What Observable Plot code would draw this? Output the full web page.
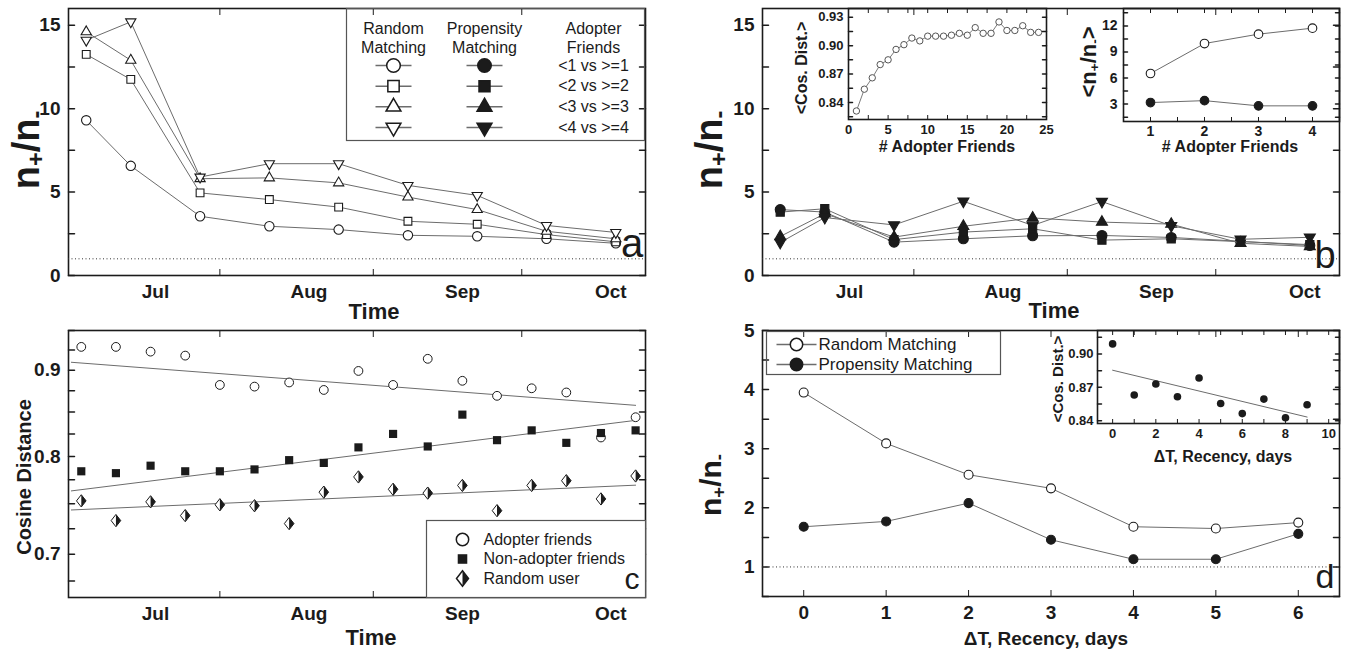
<!DOCTYPE html>
<html><head><meta charset="utf-8">
<script src="https://cdn.jsdelivr.net/npm/d3@7"></script>
<script src="https://cdn.jsdelivr.net/npm/@observablehq/plot@0.6"></script>
<style>
body{margin:0;background:#fff;}
#root{position:relative;width:1347px;height:652px;overflow:hidden;font-family:"Liberation Sans",Arial,sans-serif;color:#1b1b1b;background:#fff;}
.lab{position:absolute;white-space:nowrap;font-weight:bold;transform:translate(-50%,-50%);line-height:1;}
.rot{transform:translate(-50%,-50%) rotate(-90deg);}
.lab sub{font-size:62%;vertical-align:-0.22em;line-height:0;}
.let{font-weight:normal;}
</style></head><body><div id="root"></div>
<script>
// ---------------- data ----------------
const timeAB = ["2010-06-17","2010-06-26","2010-07-10","2010-07-24","2010-08-07","2010-08-21","2010-09-04","2010-09-18","2010-10-02"];
// (a) random matching, n+/n-
const randomLt1 = [9.3, 6.57, 3.55, 2.95, 2.75, 2.41, 2.35, 2.2, 1.93];
const randomLt2 = [13.25, 11.75, 4.95, 4.55, 4.1, 3.25, 3.07, 2.45, 2.02];
const randomLt3 = [14.6, 12.9, 5.8, 5.85, 5.55, 4.7, 3.95, 2.65, 2.2];
const randomLt4 = [14.1, 15.2, 5.9, 6.7, 6.7, 5.4, 4.8, 3.0, 2.58];
// (b) propensity matching, n+/n-
const propLt1 = [3.95, 3.8, 2.0, 2.2, 2.38, 2.4, 2.28, 2.05, 1.8];
const propLt2 = [3.8, 4.0, 2.15, 2.6, 2.8, 2.12, 2.2, 2.03, 1.85];
const propLt3 = [2.34, 3.7, 2.3, 2.95, 3.45, 3.2, 3.08, 1.93, 1.74];
const propLt4 = [1.98, 3.47, 3.03, 4.45, 3.0, 4.43, 2.98, 2.17, 2.29];
// (b) inset 1
const adopterFriendsCount = [1,2,3,4,5,6,7,8,9,10,11,12,13,14,15,16,17,18,19,20,21,22,23,24];
const cosDistByFriends = [0.831,0.854,0.866,0.880,0.885,0.896,0.901,0.908,0.905,0.910,0.910,0.910,0.911,0.913,0.911,0.919,0.913,0.913,0.925,0.916,0.916,0.921,0.914,0.914];
// (b) inset 2
const friendsThreshold = [1,2,3,4];
const meanRatioRandom = [6.52, 9.97, 11.05, 11.74];
const meanRatioPropensity = [3.18, 3.4, 2.8, 2.8];
// (c) cosine distance over time
const timeC = ["2010-06-16","2010-06-23","2010-06-30","2010-07-07","2010-07-14","2010-07-21","2010-07-28","2010-08-04","2010-08-11","2010-08-18","2010-08-25","2010-09-01","2010-09-08","2010-09-15","2010-09-22","2010-09-29","2010-10-06"];
const cosAdopter = [0.929,0.929,0.923,0.918,0.882,0.880,0.885,0.876,0.899,0.882,0.914,0.887,0.869,0.878,0.873,0.821,0.844];
const cosNonAdopter = [0.784,0.782,0.790,0.784,0.784,0.786,0.796,0.793,0.810,0.825,0.811,0.847,0.818,0.829,0.815,0.826,0.829];
const cosRandomUser = [0.753,0.733,0.752,0.738,0.749,0.748,0.730,0.762,0.778,0.765,0.761,0.769,0.743,0.769,0.774,0.755,0.779];
// (c) fitted trend lines as drawn (start / end values)
const fitTime = ["2010-06-14","2010-10-06"];
const fitAdopter = [0.9097, 0.8578];
const fitNonAdopter = [0.7633, 0.8404];
const fitRandomUser = [0.7437, 0.7693];
// (d) recency
const recencyDays = [0,1,2,3,4,5,6];
const ratioRecencyRandom = [3.95, 3.09, 2.56, 2.33, 1.68, 1.65, 1.75];
const ratioRecencyPropensity = [1.68, 1.77, 2.08, 1.46, 1.13, 1.13, 1.56];
const recencyDaysInset = [0,1,2,3,4,5,6,7,8,9];
const cosByRecency = [0.909,0.8631,0.873,0.8616,0.8784,0.8556,0.8465,0.8595,0.8427,0.8544];
// ticks / labels
const monthTicks = ["2010-07-01","2010-08-01","2010-09-01","2010-10-01"];
const midMonthTicks = ["2010-07-14","2010-08-14","2010-09-13"];
const thresholdNames = ["<1 vs >=1","<2 vs >=2","<3 vs >=3","<4 vs >=4"];
const legendHeaders = ["Random\nMatching","Propensity\nMatching","Adopter\nFriends"];
const legendCNames = ["Adopter friends","Non-adopter friends","Random user"];
const legendDNames = ["Random Matching","Propensity Matching"];

// ---------------- helpers ----------------
const INK = "#1b1b1b", LINE = "#6c6c6c", FONT = "'Liberation Sans', Arial, Helvetica, sans-serif";
const parse = d3.utcParse("%Y-%m-%d");
const monthFmt = d3.utcFormat("%b");
const root = document.getElementById("root");
const timeDomain = [new Date(Date.UTC(2010,5,13,10)), parse("2010-10-08")];
const baseStyle = {background:"transparent", fontFamily: FONT, color: INK, overflow:"visible", fontSize:"16px"};

function place(node, left, top){
  node.style.position = "absolute"; node.style.left = left + "px"; node.style.top = top + "px";
  root.appendChild(node); return node;
}
function label(html, cx, cy, size, cls=""){
  const d = document.createElement("div");
  d.className = "lab " + cls; d.innerHTML = html;
  d.style.left = cx + "px"; d.style.top = cy + "px"; d.style.fontSize = size + "px";
  root.appendChild(d);
}
const none = () => "";
const tickLine = {draw(ctx, l){ ctx.moveTo(0, 0); ctx.lineTo(0, -l); }};
function xAxes({xLab, xFmt, xMarks, topMarks = xMarks, fs = 19, tick = 6, xPad = 9}){
  return [
    Plot.axisX({ticks: xLab, tickFormat: xFmt, tickSize: 0, tickPadding: xPad, fontSize: fs, fontWeight: "bold", label: null}),
    Plot.axisX({ticks: xMarks, tickFormat: none, tickSize: -tick, label: null}),
    Plot.axisX({anchor: "top", ticks: topMarks, tickFormat: none, tickSize: -tick, label: null})
  ];
}
function yAxes({yLab, yFmt, yMarks, fs = 19, tick = 6, yPad = 8}){
  // inward y ticks drawn as vectors anchored on the frame, labels as text
  return [
    Plot.text(yLab, {y: d => d, frameAnchor: "left", textAnchor: "end", dx: -yPad, text: yFmt, fontSize: fs, fontWeight: "bold"}),
    Plot.vector(yMarks, {y: d => d, frameAnchor: "left", rotate: 90, length: tick, anchor: "start", shape: tickLine, stroke: INK}),
    Plot.vector(yMarks, {y: d => d, frameAnchor: "right", rotate: -90, length: tick, anchor: "start", shape: tickLine, stroke: INK})
  ];
}
function boxAxes(o){
  return [...xAxes(o), ...yAxes(o), Plot.frame({stroke: INK, strokeWidth: 1.6})];
}
const triDown = {draw(ctx, size){ const y = -Math.sqrt(size / (Math.sqrt(3) * 3)); ctx.moveTo(0, -y * 2); ctx.lineTo(-Math.sqrt(3) * y, y); ctx.lineTo(Math.sqrt(3) * y, y); ctx.closePath(); }};
const dash = (h) => ({draw(ctx){ ctx.moveTo(-h, 0); ctx.lineTo(h, 0); }});
const diamondOutline = {draw(ctx, size){ const r = Math.sqrt(size / Math.PI), w = r, h = r * 1.28; ctx.moveTo(0,-h); ctx.lineTo(w,0); ctx.lineTo(0,h); ctx.lineTo(-w,0); ctx.closePath(); }};
const diamondRight = {draw(ctx, size){ const r = Math.sqrt(size / Math.PI), w = r, h = r * 1.28; ctx.moveTo(0,-h); ctx.lineTo(w,0); ctx.lineTo(0,h); ctx.closePath(); }};

const symOpen = [{symbol:"circle", r:4.7},{symbol:"square", r:4.4},{symbol:"triangle", r:3.8},{symbol:triDown, r:3.8}];
const symFill = [{symbol:"circle", r:5.0},{symbol:"square", r:4.6},{symbol:"triangle", r:4.1},{symbol:triDown, r:4.1}];

function series(xs, vals, st, filled, parseX = true){
  const data = xs.map((x, i) => ({x: parseX ? parse(x) : x, v: vals[i]}));
  return [
    Plot.line(data, {x: "x", y: "v", stroke: LINE, strokeWidth: 1}),
    Plot.dot(data, {x: "x", y: "v", symbol: st.symbol, r: st.r, fill: filled ? INK : "white", stroke: INK, strokeWidth: 1.1})
  ];
}
const yMain = d3.range(0, 15.01, 2.5);
const timeAxes = {xLab: monthTicks.map(parse), xFmt: monthFmt, xMarks: midMonthTicks.map(parse), yLab: [0,5,10,15], yFmt: d3.format("d"), yMarks: yMain};
const noAxes = {axis: null};

// ---------------- panel a ----------------
const panelA = Plot.plot({
  width: 660, height: 320, marginLeft: 68, marginRight: 15, marginTop: 8, marginBottom: 45,
  x: {type: "utc", domain: timeDomain}, y: {domain: [0, 16], ...noAxes}, style: baseStyle,
  marks: [
    ...boxAxes(timeAxes),
    Plot.ruleY([1], {stroke: "#333", strokeDasharray: "1,2.5"}),
    ...[randomLt1, randomLt2, randomLt3, randomLt4].flatMap((v, i) => series(timeAB, v, symOpen[i], false))
  ]
});
place(panelA, 0, 0);

// legend (a): three columns placed from the frame's left edge, rows on a y scale
const legendRows = thresholdNames.map((name, i) => ({i, name}));
const colX = [47, 138, 247];
const legendA = Plot.plot({
  width: 298, height: 132, margin: 0, style: baseStyle,
  x: noAxes, y: {domain: [0, 3], range: [57, 119], ...noAxes},
  marks: [
    Plot.frame({stroke: "#555", strokeWidth: 1.2}),
    ...legendHeaders.map((h, c) => Plot.text([h], {frameAnchor: "top-left", dx: colX[c], dy: 12, lineAnchor: "top", textAnchor: "middle", text: d => d, fontSize: 16, lineHeight: 1.18})),
    Plot.dot(legendRows, {frameAnchor: "left", dx: colX[0], y: "i", symbol: dash(18), stroke: LINE, fill: "none"}),
    Plot.dot(legendRows, {frameAnchor: "left", dx: colX[1], y: "i", symbol: dash(18), stroke: LINE, fill: "none"}),
    ...legendRows.map(d => Plot.dot([d], {frameAnchor: "left", dx: colX[0], y: "i", symbol: symOpen[d.i].symbol, r: symOpen[d.i].r * 1.45, fill: "white", stroke: INK})),
    ...legendRows.map(d => Plot.dot([d], {frameAnchor: "left", dx: colX[1], y: "i", symbol: symFill[d.i].symbol, r: symFill[d.i].r * 1.35, fill: INK, stroke: INK})),
    Plot.text(legendRows, {frameAnchor: "left", dx: colX[2], y: "i", text: "name", textAnchor: "middle", fontSize: 16})
  ]
});
place(legendA, 346, 8);

// ---------------- panel b ----------------
const panelB = Plot.plot({
  width: 647, height: 320, marginLeft: 62, marginRight: 8, marginTop: 8, marginBottom: 45,
  x: {type: "utc", domain: timeDomain}, y: {domain: [0, 16], ...noAxes}, style: baseStyle,
  marks: [
    ...boxAxes(timeAxes),
    Plot.ruleY([1], {stroke: "#333", strokeDasharray: "1,2.5"}),
    ...[propLt1, propLt2, propLt3, propLt4].flatMap((v, i) => series(timeAB, v, symFill[i], true))
  ]
});
place(panelB, 700, 0);

const insetB1 = Plot.plot({
  width: 260, height: 160, marginLeft: 48, marginRight: 14, marginTop: 8, marginBottom: 41,
  x: {domain: [0, 25]}, y: {domain: [0.822, 0.9392], ...noAxes}, style: baseStyle,
  marks: [
    ...boxAxes({xLab: [0,5,10,15,20,25], xFmt: d3.format("d"), xMarks: d3.range(0, 25.1, 2.5), yLab: [0.84,0.87,0.90,0.93], yFmt: d3.format(".2f"), yMarks: d3.range(0.825, 0.94, 0.015), fs: 13, tick: 4, xPad: 5, yPad: 5}),
    Plot.line(adopterFriendsCount.map((x, i) => ({x, v: cosDistByFriends[i]})), {x: "x", y: "v", stroke: LINE, strokeWidth: 0.9}),
    Plot.dot(adopterFriendsCount.map((x, i) => ({x, v: cosDistByFriends[i]})), {x: "x", y: "v", r: 3.2, fill: "white", stroke: "#555", strokeWidth: 1})
  ]
});
place(insetB1, 800, 0);

const insetB2 = Plot.plot({
  width: 277, height: 160, marginLeft: 53, marginRight: 8, marginTop: 8, marginBottom: 39,
  x: {domain: [0.5, 4.5]}, y: {domain: [1, 14], ...noAxes}, style: baseStyle,
  marks: [
    ...boxAxes({xLab: [1,2,3,4], xFmt: d3.format("d"), xMarks: d3.range(0.5, 4.51, 0.5), yLab: [3,6,9,12], yFmt: d3.format("d"), yMarks: d3.range(1.5, 13.6, 1.5), fs: 14, tick: 4, xPad: 5, yPad: 6}),
    ...series(friendsThreshold, meanRatioRandom, {symbol: "circle", r: 4.3}, false, false),
    ...series(friendsThreshold, meanRatioPropensity, {symbol: "circle", r: 4.3}, true, false)
  ]
});
place(insetB2, 1070, 0);

// ---------------- panel c ----------------
const dataC = (vals) => timeC.map((t, i) => ({x: parse(t), v: vals[i]}));
const fitC = (vals) => fitTime.map((t, i) => ({x: parse(t), v: vals[i]}));
const panelC = Plot.plot({
  width: 660, height: 332, marginLeft: 68, marginRight: 15, marginTop: 10, marginBottom: 55,
  x: {type: "utc", domain: timeDomain}, y: {type: "log", domain: [0.66, 0.95], ...noAxes}, style: baseStyle,
  marks: [
    ...boxAxes({xLab: monthTicks.map(parse), xFmt: monthFmt, xMarks: midMonthTicks.map(parse), yLab: [0.7,0.8,0.9], yFmt: d3.format(".1f"), yMarks: d3.range(0.675, 0.951, 0.025)}),
    Plot.line(fitC(fitAdopter), {x: "x", y: "v", stroke: LINE, strokeWidth: 1}),
    Plot.line(fitC(fitNonAdopter), {x: "x", y: "v", stroke: LINE, strokeWidth: 1}),
    Plot.line(fitC(fitRandomUser), {x: "x", y: "v", stroke: LINE, strokeWidth: 1}),
    Plot.dot(dataC(cosAdopter), {x: "x", y: "v", r: 4.4, fill: "white", stroke: INK, strokeWidth: 1}),
    Plot.dot(dataC(cosNonAdopter), {x: "x", y: "v", symbol: "square", r: 4.6, fill: INK}),
    Plot.dot(dataC(cosRandomUser), {x: "x", y: "v", symbol: diamondOutline, r: 4.8, fill: "white", stroke: INK, strokeWidth: 1}),
    Plot.dot(dataC(cosRandomUser), {x: "x", y: "v", symbol: diamondRight, r: 4.8, fill: INK})
  ]
});
place(panelC, 0, 320);

const legendC = Plot.plot({
  width: 219, height: 77, margin: 0, style: baseStyle,
  x: {domain: [0, 1], range: [36, 57], ...noAxes},
  y: {domain: [0, 2], range: [19, 58], ...noAxes},
  marks: [
    Plot.frame({stroke: "#555", strokeWidth: 1.2, fill: "white"}),
    Plot.dot([0], {x: () => 0, y: d => d, r: 6.2, fill: "white", stroke: INK}),
    Plot.dot([1], {x: () => 0, y: d => d, symbol: "square", r: 5.4, fill: INK}),
    Plot.dot([2], {x: () => 0, y: d => d, symbol: diamondOutline, r: 6, fill: "white", stroke: INK}),
    Plot.dot([2], {x: () => 0, y: d => d, symbol: diamondRight, r: 6, fill: INK}),
    Plot.text(legendCNames, {x: () => 1, y: (d, i) => i, text: d => d, textAnchor: "start", fontSize: 16})
  ]
});
place(legendC, 426, 520);

// ---------------- panel d ----------------
const panelD = Plot.plot({
  width: 647, height: 332, marginLeft: 62, marginRight: 8, marginTop: 10, marginBottom: 56,
  x: {domain: [-0.5, 6.5]}, y: {domain: [0.5, 5], ...noAxes}, style: baseStyle,
  marks: [
    ...boxAxes({xLab: recencyDays, xFmt: d3.format("d"), xMarks: recencyDays, yLab: [1,2,3,4,5], yFmt: d3.format("d"), yMarks: d3.range(0.5, 5.01, 0.5)}),
    Plot.ruleY([1], {stroke: "#333", strokeDasharray: "1,2.5"}),
    ...series(recencyDays, ratioRecencyRandom, {symbol: "circle", r: 4.5}, false, false),
    ...series(recencyDays, ratioRecencyPropensity, {symbol: "circle", r: 4.5}, true, false)
  ]
});
place(panelD, 700, 320);

const legendD = Plot.plot({
  width: 234, height: 43, margin: 0, style: baseStyle,
  x: {domain: [0, 1], range: [30, 52], ...noAxes},
  y: {domain: [0, 1], range: [13, 33], ...noAxes},
  marks: [
    Plot.frame({stroke: "#555", strokeWidth: 1.2}),
    Plot.dot([0,1], {x: () => 0, y: d => d, symbol: dash(20), stroke: LINE, fill: "none"}),
    Plot.dot([0], {x: () => 0, y: d => d, r: 6.2, fill: "white", stroke: INK}),
    Plot.dot([1], {x: () => 0, y: d => d, r: 6.2, fill: INK, stroke: INK}),
    Plot.text(legendDNames, {x: () => 1, y: (d, i) => i, text: d => d, textAnchor: "start", fontSize: 17})
  ]
});
place(legendD, 766, 331);

const insetD = Plot.plot({
  width: 307, height: 150, marginLeft: 57, marginRight: 8, marginTop: 10, marginBottom: 47,
  x: {domain: [-0.7, 10.5]}, y: {domain: [0.8376, 0.921], ...noAxes}, style: baseStyle,
  marks: [
    ...boxAxes({xLab: [0,2,4,6,8,10], xFmt: d3.format("d"), xMarks: d3.range(0, 10.1, 1), yLab: [0.84,0.87,0.90], yFmt: d3.format(".2f"), yMarks: d3.range(0.84, 0.921, 0.015), fs: 13, tick: 4, xPad: 5, yPad: 4}),
    Plot.linearRegressionY(recencyDaysInset.map((x, i) => ({x, v: cosByRecency[i]})), {x: "x", y: "v", stroke: LINE, strokeWidth: 1, ci: 0}),
    Plot.dot(recencyDaysInset.map((x, i) => ({x, v: cosByRecency[i]})), {x: "x", y: "v", r: 3.8, fill: INK})
  ]
});
place(insetD, 1040, 320);

// ---------------- titles ----------------
const nRatio = "n<sub>+</sub>/n<sub>-</sub>";
label(nRatio, 26, 150, 38, "rot");
label("Time", 374, 312, 22);
label(nRatio, 709, 150, 38, "rot");
label("Time", 1054, 311, 22);
label("&lt;Cos. Dist.&gt;", 802, 68, 16, "rot");
label("# Adopter Friends", 947, 147, 16);
label("&lt;" + nRatio + "&gt;", 1089, 62, 22, "rot");
label("# Adopter Friends", 1230, 147, 16);
label("Cosine Distance", 24, 477, 20, "rot");
label("Time", 371, 638, 22);
label(nRatio, 711, 485, 30, "rot");
label("&Delta;T, Recency, days", 1046, 638, 19);
label("&lt;Cos. Dist.&gt;", 1057, 379, 15, "rot");
label("&Delta;T, Recency, days", 1223, 457, 16);
label("a", 632, 243, 40, "let");
label("b", 1325, 255, 38, "let");
label("c", 632, 579, 30, "let");
label("d", 1325, 576, 34, "let");
</script></body></html>
